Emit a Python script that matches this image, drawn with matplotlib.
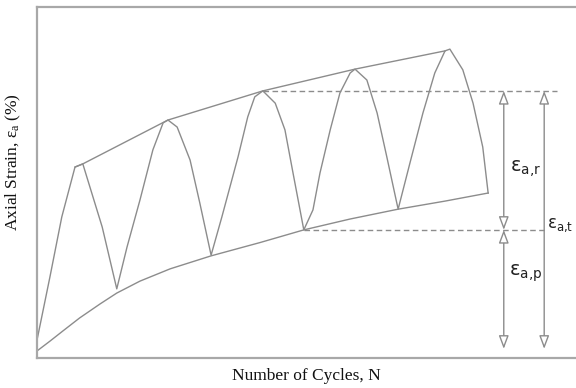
import matplotlib
matplotlib.use('Agg')
from matplotlib import pyplot as plt
from matplotlib.patches import FancyArrowPatch

# zig-zag strain path (arbitrary units 0-100)
cyc_x = [0, 2.4, 4.6, 7.05, 8.5, 12.1, 14.8,
         16.7, 19.1, 21.5, 23.4, 24.3, 26.0, 28.4, 30.2, 32.3,
         34.3, 37.3, 39.1, 40.4, 41.9, 44.2, 46.0, 47.5, 49.5,
         51.2, 52.5, 54.4, 56.2, 58.1, 59.0, 61.2, 63.1, 64.9, 67.0,
         69.2, 71.6, 73.8, 75.7, 76.6, 79.0, 80.9, 82.7, 83.7]
cyc_y = [5.1, 23.1, 40.2, 54.4, 55.3, 37.3, 19.7,
         31.6, 45.0, 59.3, 67.0, 67.8, 65.8, 56.4, 44.2, 29.3,
         40.2, 57.3, 68.7, 74.4, 76.1, 72.6, 65.0, 52.7, 36.5,
         42.2, 52.7, 65.0, 75.5, 81.2, 82.3, 79.2, 69.8, 57.3, 42.4,
         55.6, 69.8, 81.2, 87.5, 88.0, 82.1, 72.6, 60.1, 47.0]

# upper envelope (peaks)
top_x = [7.05, 8.5, 24.3, 41.9, 59.0, 75.7]
top_y = [54.4, 55.3, 67.8, 76.1, 82.3, 87.5]

# lower envelope (permanent strain)
bot_x = [0, 2.4, 4.8, 7.9, 11.7, 14.8, 19.1, 24.7, 32.3, 41.4, 49.5, 58.1, 67.0, 75.7, 83.7]
bot_y = [2.0, 4.8, 7.7, 11.4, 15.4, 18.5, 21.9, 25.4, 29.1, 32.9, 36.5, 39.6, 42.4, 44.7, 47.0]

# reference levels and arrows
y_peak = 76.1
y_valley = 36.5
y_base = 2.6
x_arrow_in = 86.6
x_arrow_out = 94.1

lc = '#8c8c8c'

fig = plt.figure(figsize=(5.76, 3.88), dpi=100)
ax = fig.add_axes([37/576, 30/388, 1 - 37/576, 351/388])
ax.set_xlim(0, 100)
ax.set_ylim(0, 100)
ax.set_xticks([])
ax.set_yticks([])
for s in ['left', 'bottom', 'top']:
    ax.spines[s].set_color('#a8a8a8')
    ax.spines[s].set_linewidth(1.6)
ax.spines['right'].set_visible(False)

ax.plot(cyc_x, cyc_y, color=lc, lw=1.0)
ax.plot(top_x, top_y, color=lc, lw=1.0)
ax.plot(bot_x, bot_y, color=lc, lw=1.0)

# dashed reference lines
ax.plot([41.9, 96.5], [y_peak, y_peak], color=lc, lw=1.0, ls=(0, (4, 2.5)))
ax.plot([49.5, 94.6], [y_valley, y_valley], color=lc, lw=1.0, ls=(0, (4, 2.5)))

def seta(x, y0, y1):
    a = FancyArrowPatch((x, y0), (x, y1), arrowstyle='<|-|>,head_length=0.8,head_width=0.3',
                        mutation_scale=10, color=lc, fc='white', lw=1.0,
                        shrinkA=0, shrinkB=0)
    ax.add_patch(a)

seta(x_arrow_in, y_valley, y_peak)
seta(x_arrow_in, y_base, y_valley)
seta(x_arrow_out, y_base, y_peak)

ax.text(90.6, 54.1, r'$\mathregular{ε_{a{,}r}}$', fontsize=14, ha='center', va='center',
        color='#222222')
ax.text(90.6, 24.2, r'$\mathregular{ε_{a{,}p}}$', fontsize=14, ha='center', va='center',
        color='#222222')
ax.text(97.0, 37.9, r'$\mathregular{ε_{a{,}t}}$', fontsize=12, ha='center', va='center',
        color='#222222')

fig.text(306/576, 1 - 376/388, 'Number of Cycles, N', family='Liberation Serif',
         fontsize=12.5, ha='center', va='center', color='#111111')
fig.text(13/576, 1 - 162/388, r'Axial Strain, $\mathregular{ε_a}$ (%)', family='Liberation Serif',
         fontsize=12.5, ha='center', va='center', rotation=90, color='#111111')

fig.savefig('out.png', dpi=100)
